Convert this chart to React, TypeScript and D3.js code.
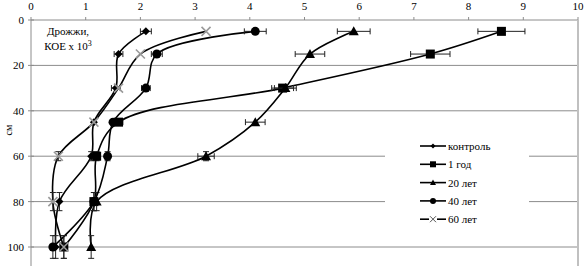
import { useEffect, useRef } from 'react'
import * as d3 from 'd3'

const depths = [5, 15, 30, 45, 60, 80, 100]
const seriesNames = ['контроль', '1 год', '20 лет', '40 лет', '60 лет']
const control = [2.1, 1.6, 1.55, 1.15, 1.1, 0.52, 0.45]
const year1 = [8.6, 7.3, 4.6, 1.6, 1.2, 1.15, 0.6]
const years20 = [5.9, 5.1, 4.65, 4.1, 3.2, 1.2, 1.1]
const years40 = [4.1, 2.3, 2.1, 1.5, 1.4, 1.15, 0.4]
const years60 = [3.2, 2.0, 1.6, 1.15, 0.5, 0.4, 0.6]
const controlErr = [0.1, 0.08, 0.08, 0.06, 0.06, 0.05, 0.05]
const year1Err = [0.43, 0.36, 0.2, 0.08, 0.06, 0.06, 0.05]
const years20Err = [0.3, 0.27, 0.2, 0.18, 0.15, 0.06, 0.05]
const years40Err = [0.2, 0.1, 0.08, 0.06, 0.06, 0.05, 0.05]
const depthErr = [0, 0, 0, 0, 2, 4, 5]
const xTicks = [0, 1, 2, 3, 4, 5, 6, 7, 8, 9, 10]
const yTicks = [0, 20, 40, 60, 80, 100]

const values = [control, year1, years20, years40, years60]
const errs = [controlErr, year1Err, years20Err, years40Err, null]
const markers = ['diamond', 'square', 'triangle', 'circle', 'cross']

export default function App() {
    const svgRef = useRef<SVGSVGElement>(null)

    useEffect(() => {
        if (!svgRef.current) return
        const svg = d3.select(svgRef.current)
        svg.selectAll('*').remove()

        const left = 31, right = 578, top = 20
        const x = d3.scaleLinear().domain([0, 10]).range([left, right])
        const y = d3.scaleLinear().domain([0, 100]).range([top, 247])
        const font = 'Liberation Serif, Times New Roman, serif'
        const grid = '#8c8c8c'

        // gridlines
        svg.append('g').selectAll('line')
            .data(yTicks.filter(d => d > 0))
            .enter().append('line')
            .attr('x1', left).attr('x2', right)
            .attr('y1', d => y(d)).attr('y2', d => y(d))
            .attr('stroke', grid).attr('stroke-width', 1)

        // frame lines
        svg.append('line').attr('x1', left).attr('x2', right).attr('y1', top).attr('y2', top)
            .attr('stroke', grid)
        svg.append('line').attr('x1', left).attr('x2', left).attr('y1', top).attr('y2', 266)
            .attr('stroke', grid)
        svg.append('line').attr('x1', right).attr('x2', right).attr('y1', top).attr('y2', 266)
            .attr('stroke', '#c0c0c0').attr('stroke-width', 2)

        // x axis on top
        const xAxis = svg.append('g')
        xAxis.selectAll('line').data(xTicks).enter().append('line')
            .attr('x1', d => x(d)).attr('x2', d => x(d))
            .attr('y1', top - 3).attr('y2', top)
            .attr('stroke', grid)
        xAxis.selectAll('text').data(xTicks).enter().append('text')
            .attr('x', d => x(d)).attr('y', 10)
            .attr('text-anchor', 'middle')
            .style('font-family', font).style('font-size', '11px')
            .text(d => d)

        // y axis
        const yAxis = svg.append('g')
        yAxis.selectAll('line').data(yTicks).enter().append('line')
            .attr('x1', left - 3).attr('x2', left + 3)
            .attr('y1', d => y(d)).attr('y2', d => y(d))
            .attr('stroke', grid)
        yAxis.selectAll('text').data(yTicks).enter().append('text')
            .attr('x', left - 7).attr('y', d => y(d) + 4)
            .attr('text-anchor', 'end')
            .style('font-family', font).style('font-size', '11px')
            .text(d => d)
        svg.append('text')
            .attr('transform', `translate(12,${130}) rotate(-90)`)
            .attr('text-anchor', 'middle')
            .style('font-family', font).style('font-size', '10px')
            .text('см')

        // title inside plot
        svg.append('text').attr('x', 68).attr('y', 35).attr('text-anchor', 'middle')
            .style('font-family', font).style('font-size', '11px').text('Дрожжи,')
        const t2 = svg.append('text').attr('x', 68).attr('y', 50).attr('text-anchor', 'middle')
            .style('font-family', font).style('font-size', '11px')
        t2.append('tspan').text('КОЕ х 10')
        t2.append('tspan').attr('dy', -4).style('font-size', '8px').text('3')

        const drawMarker = (g: any, kind: string, cx: number, cy: number) => {
            if (kind === 'diamond') {
                g.append('path').attr('d', `M${cx},${cy - 4}L${cx + 4},${cy}L${cx},${cy + 4}L${cx - 4},${cy}Z`).attr('fill', '#000')
            } else if (kind === 'square') {
                g.append('rect').attr('x', cx - 4.5).attr('y', cy - 4.5).attr('width', 9).attr('height', 9).attr('fill', '#000')
            } else if (kind === 'triangle') {
                g.append('path').attr('d', `M${cx},${cy - 5}L${cx + 5},${cy + 4}L${cx - 5},${cy + 4}Z`).attr('fill', '#000')
            } else if (kind === 'circle') {
                g.append('circle').attr('cx', cx).attr('cy', cy).attr('r', 4.5).attr('fill', '#000')
            } else {
                g.append('path').attr('d', `M${cx - 4.5},${cy - 4.5}L${cx + 4.5},${cy + 4.5}M${cx - 4.5},${cy + 4.5}L${cx + 4.5},${cy - 4.5}`)
                    .attr('stroke', '#9a9a9a').attr('stroke-width', 1.6).attr('fill', 'none')
            }
        }

        // legend box
        const lg = svg.append('g')
        lg.append('rect').attr('x', 385).attr('y', 132).attr('width', 144).attr('height', 100).attr('fill', '#fff')

        const line = d3.line<number>()
            .x(d => x(d))
            .y((_, i) => y(depths[i]))
            .curve(d3.curveCatmullRom.alpha(0.5))

        values.forEach((vals, si) => {
            const g = svg.append('g')
            g.append('path').attr('d', line(vals)!).attr('fill', 'none')
                .attr('stroke', '#000').attr('stroke-width', 1.6)
            const e = errs[si]
            vals.forEach((v, i) => {
                const cy = y(depths[i]), cx = x(v)
                if (e && e[i] > 0.07) {
                    g.append('path')
                        .attr('d', `M${x(v - e[i])},${cy}H${x(v + e[i])}M${x(v - e[i])},${cy - 3}V${cy + 3}M${x(v + e[i])},${cy - 3}V${cy + 3}`)
                        .attr('stroke', '#222').attr('stroke-width', 1).attr('fill', 'none')
                }
                if (depthErr[i] > 0) {
                    const y1 = y(depths[i] - depthErr[i]), y2 = y(depths[i] + depthErr[i])
                    g.append('path')
                        .attr('d', `M${cx},${y1}V${y2}M${cx - 3},${y1}H${cx + 3}M${cx - 3},${y2}H${cx + 3}`)
                        .attr('stroke', '#222').attr('stroke-width', 1).attr('fill', 'none')
                }
            })
            vals.forEach((v, i) => drawMarker(g, markers[si], x(v), y(depths[i])))
        })

        // legend entries
        seriesNames.forEach((name, i) => {
            const ly = 146 + i * 18.3
            lg.append('line').attr('x1', 420).attr('x2', 446).attr('y1', ly).attr('y2', ly)
                .attr('stroke', '#000').attr('stroke-width', 1.6)
            const m = lg.append('g')
            if (markers[i] === 'diamond') {
                m.append('path').attr('d', `M433,${ly - 2.5}L435.5,${ly}L433,${ly + 2.5}L430.5,${ly}Z`).attr('fill', '#000')
            } else if (markers[i] === 'square') {
                m.append('rect').attr('x', 430).attr('y', ly - 3).attr('width', 6).attr('height', 6).attr('fill', '#000')
            } else if (markers[i] === 'triangle') {
                m.append('path').attr('d', `M433,${ly - 3}L436,${ly + 2.5}L430,${ly + 2.5}Z`).attr('fill', '#000')
            } else if (markers[i] === 'circle') {
                m.append('circle').attr('cx', 433).attr('cy', ly).attr('r', 3).attr('fill', '#000')
            } else {
                m.append('rect').attr('x', 429).attr('y', ly - 4).attr('width', 8).attr('height', 8).attr('fill', '#fff')
                m.append('path').attr('d', `M430,${ly - 3}L436,${ly + 3}M430,${ly + 3}L436,${ly - 3}`)
                    .attr('stroke', '#555').attr('stroke-width', 1)
            }
            lg.append('text').attr('x', 448).attr('y', ly + 4)
                .style('font-family', font).style('font-size', '11px')
                .text(name)
        })
    }, [])

    return (
        <svg ref={svgRef} width={584} height={266}
            style={{ position: 'absolute', left: 0, top: 0, background: '#fff' }} />
    )
}
